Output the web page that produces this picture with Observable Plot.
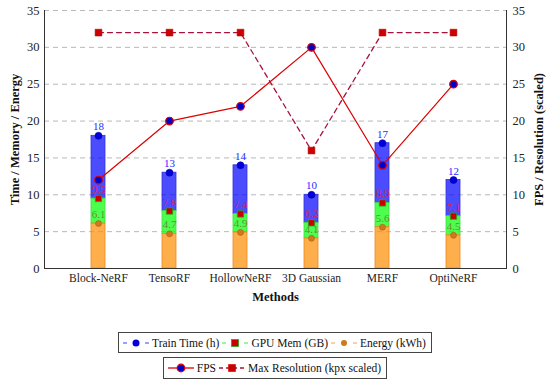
<!DOCTYPE html>
<html>
<head>
<meta charset="utf-8">
<script src="https://cdn.jsdelivr.net/npm/d3@7"></script>
<script src="https://cdn.jsdelivr.net/npm/@observablehq/plot@0.6"></script>
<style>
  body { margin: 0; background: #fff; font-family: "Liberation Serif", serif; }
  #chart { width: 550px; }
  .legend { display: flex; justify-content: center; }
  .box { border: 1px solid #444; display: flex; align-items: center; justify-content: center; font-size: 11.5px; color: #111; box-sizing: border-box; white-space: nowrap; padding: 0 4px 0 2px; }
  .box svg { display: block; flex: none; }
  .item { display: flex; align-items: center; white-space: nowrap; }
</style>
</head>
<body>
<div id="chart"></div>
<script>
const methods = ["Block-NeRF", "TensoRF", "HollowNeRF", "3D Gaussian", "MERF", "OptiNeRF"];
const trainTime = [18, 13, 14, 10, 17, 12];
const gpuMem = [9.5, 7.8, 7.4, 6.2, 8.9, 7.1];
const energy = [6.1, 4.7, 4.9, 4.1, 5.6, 4.5];
const fps = [12, 20, 22, 30, 14, 25];
const maxRes = [32, 32, 32, 16, 32, 32];
const yTicks = [0, 5, 10, 15, 20, 25, 30, 35];

const rows = methods.map((m, i) => ({
  method: m, train: trainTime[i], gpu: gpuMem[i], energy: energy[i], fps: fps[i], res: maxRes[i]
}));

const fmt = v => String(v);

const plot = Plot.plot({
  width: 550,
  height: 318,
  marginTop: 10,
  marginBottom: 50,
  marginLeft: 44,
  marginRight: 44,
  style: { fontFamily: "Liberation Serif, serif", fontSize: "12px", color: "#222", background: "#fff" },
  x: { type: "band", domain: methods, paddingInner: 0.803, paddingOuter: 0.646, label: null },
  y: { domain: [0, 35], ticks: yTicks, label: null },
  marks: [
    Plot.gridY(yTicks.slice(1), { stroke: "#b8b8b8", strokeOpacity: 1, strokeDasharray: "5,4" }),
    // bar segments
    Plot.rectY(rows, { x: "method", y1: "gpu", y2: "train", fill: "#0000ff", fillOpacity: 0.7, stroke: "#3333dd", strokeWidth: 0.8 }),
    Plot.rectY(rows, { x: "method", y1: "energy", y2: "gpu", fill: "#00ff00", fillOpacity: 0.7, stroke: "#44dd44", strokeWidth: 0.8 }),
    Plot.rectY(rows, { x: "method", y1: 0, y2: "energy", fill: "#ff8c00", fillOpacity: 0.7, stroke: "#f08a20", strokeWidth: 0.8 }),
    // bar markers
    Plot.dot(rows, { x: "method", y: "train", r: 3.5, fill: "#0000dd", stroke: "#0000aa", strokeWidth: 0.6 }),
    Plot.dot(rows, { x: "method", y: "gpu", symbol: "square", r: 3.6, fill: "#cc0000", stroke: "#22aa22", strokeWidth: 0.8 }),
    Plot.dot(rows, { x: "method", y: "energy", r: 3, fill: "#d07820", stroke: "#b06010", strokeWidth: 0.6 }),
    // bar labels
    Plot.text(rows, { x: "method", y: "train", text: d => fmt(d.train), dy: -9, fill: "#2a2aff", fontSize: 11 }),
    Plot.text(rows, { x: "method", y: "gpu", text: d => fmt(d.gpu), dy: -9, fill: "#e0203a", fillOpacity: 0.9, fontSize: 11 }),
    Plot.text(rows, { x: "method", y: "energy", text: d => fmt(d.energy), dy: -9, fill: "#6e8a40", fontSize: 11 }),
    // FPS line
    Plot.line(rows, { x: "method", y: "fps", stroke: "#dd0000", strokeWidth: 1.2 }),
    Plot.dot(rows, { x: "method", y: "fps", r: 3.8, fill: "#0000cc", stroke: "#dd0000", strokeWidth: 1.2 }),
    // Max resolution line
    Plot.line(rows, { x: "method", y: "res", stroke: "#a8123c", strokeWidth: 1.3, strokeDasharray: "5,4" }),
    Plot.dot(rows, { x: "method", y: "res", symbol: "square", r: 3.8, fill: "#cc0000", stroke: "#bb0000", strokeWidth: 0.6 }),
    // axes
    Plot.ruleY([0], { stroke: "#333", strokeWidth: 1 }),
    Plot.frame({ anchor: "left", stroke: "#333" }),
    Plot.frame({ anchor: "right", stroke: "#333" }),
    Plot.axisY({ anchor: "left", ticks: yTicks, tickSize: 0, tickPadding: 5, fontSize: 12.5, label: "Time / Memory / Energy", labelArrow: "none", labelAnchor: "center", labelOffset: 34 }),
    Plot.axisY({ anchor: "right", ticks: yTicks, tickSize: 0, tickPadding: 6, fontSize: 12.5, label: "FPS / Resolution (scaled)", labelArrow: "none", labelAnchor: "center", labelOffset: 36 }),
    Plot.axisX({ tickSize: 0, tickPadding: 5, fontSize: 11.5, label: "Methods", labelArrow: "none", labelAnchor: "center", labelOffset: 32 })
  ]
});

d3.select(plot).selectAll('g[aria-label="y-axis label"], g[aria-label="x-axis label"]')
  .attr("font-weight", "bold").attr("font-size", 12.5).attr("fill", "#111");
d3.select(plot).selectAll('g[aria-label="y-axis label"] text, g[aria-label="x-axis label"] text')
  .each(function () { this.textContent = this.textContent.replace(/[↑↓→←]/g, "").trim(); });

document.getElementById("chart").appendChild(plot);

// legends (HTML)
function icon(kind, w) {
  const h = 14;
  const s = d3.create("svg").attr("width", w).attr("height", h);
  const cy = h / 2, cx = w / 2;
  if (kind === "train" || kind === "gpu" || kind === "energy") {
    const c = { train: "#3344ff", gpu: "#33ee33", energy: "#f4a050" }[kind];
    s.append("line").attr("x1", 2).attr("x2", 6).attr("y1", cy).attr("y2", cy).attr("stroke", c).attr("stroke-width", 1);
    s.append("line").attr("x1", w - 6).attr("x2", w - 2).attr("y1", cy).attr("y2", cy).attr("stroke", c).attr("stroke-width", 1);
    if (kind === "train") s.append("circle").attr("cx", cx).attr("cy", cy).attr("r", 3.5).attr("fill", "#0000dd");
    if (kind === "gpu") s.append("rect").attr("x", cx - 3.5).attr("y", cy - 3.5).attr("width", 7).attr("height", 7).attr("fill", "#cc0000").attr("stroke", "#22aa22").attr("stroke-width", 0.8);
    if (kind === "energy") s.append("circle").attr("cx", cx).attr("cy", cy).attr("r", 3).attr("fill", "#d07820");
  } else if (kind === "fps") {
    s.append("line").attr("x1", 2).attr("x2", w - 2).attr("y1", cy).attr("y2", cy).attr("stroke", "#dd0000").attr("stroke-width", 1.3);
    s.append("circle").attr("cx", cx).attr("cy", cy).attr("r", 3.8).attr("fill", "#0000cc").attr("stroke", "#dd0000").attr("stroke-width", 1.2);
  } else {
    s.append("line").attr("x1", 2).attr("x2", w - 2).attr("y1", cy).attr("y2", cy).attr("stroke", "#a8123c").attr("stroke-width", 1.3).attr("stroke-dasharray", "4,3");
    s.append("rect").attr("x", cx - 3.8).attr("y", cy - 3.8).attr("width", 7.6).attr("height", 7.6).attr("fill", "#cc0000");
  }
  return s.node();
}
function legend(items, opts) {
  const wrap = document.createElement("div");
  wrap.className = "legend";
  wrap.style.marginTop = opts.mt + "px";
  const box = document.createElement("div");
  box.className = "box";
  box.style.height = opts.h + "px";
  box.style.fontSize = opts.fs + "px";
  items.forEach(([k, label]) => {
    const it = document.createElement("div");
    it.className = "item";
    it.appendChild(icon(k, opts.iw));
    const t = document.createElement("span");
    t.textContent = label;
    t.style.marginLeft = "1px";
    t.style.marginRight = "1px";
    it.appendChild(t);
    box.appendChild(it);
  });
  wrap.appendChild(box);
  document.body.appendChild(wrap);
}
legend([["train", "Train Time (h)"], ["gpu", "GPU Mem (GB)"], ["energy", "Energy (kWh)"]], { mt: 14, h: 21, iw: 30, fs: 11.5 });
legend([["fps", "FPS"], ["res", "Max Resolution (kpx scaled)"]], { mt: 4, h: 22, iw: 30, fs: 11.5 });
</script>
</body>
</html>
